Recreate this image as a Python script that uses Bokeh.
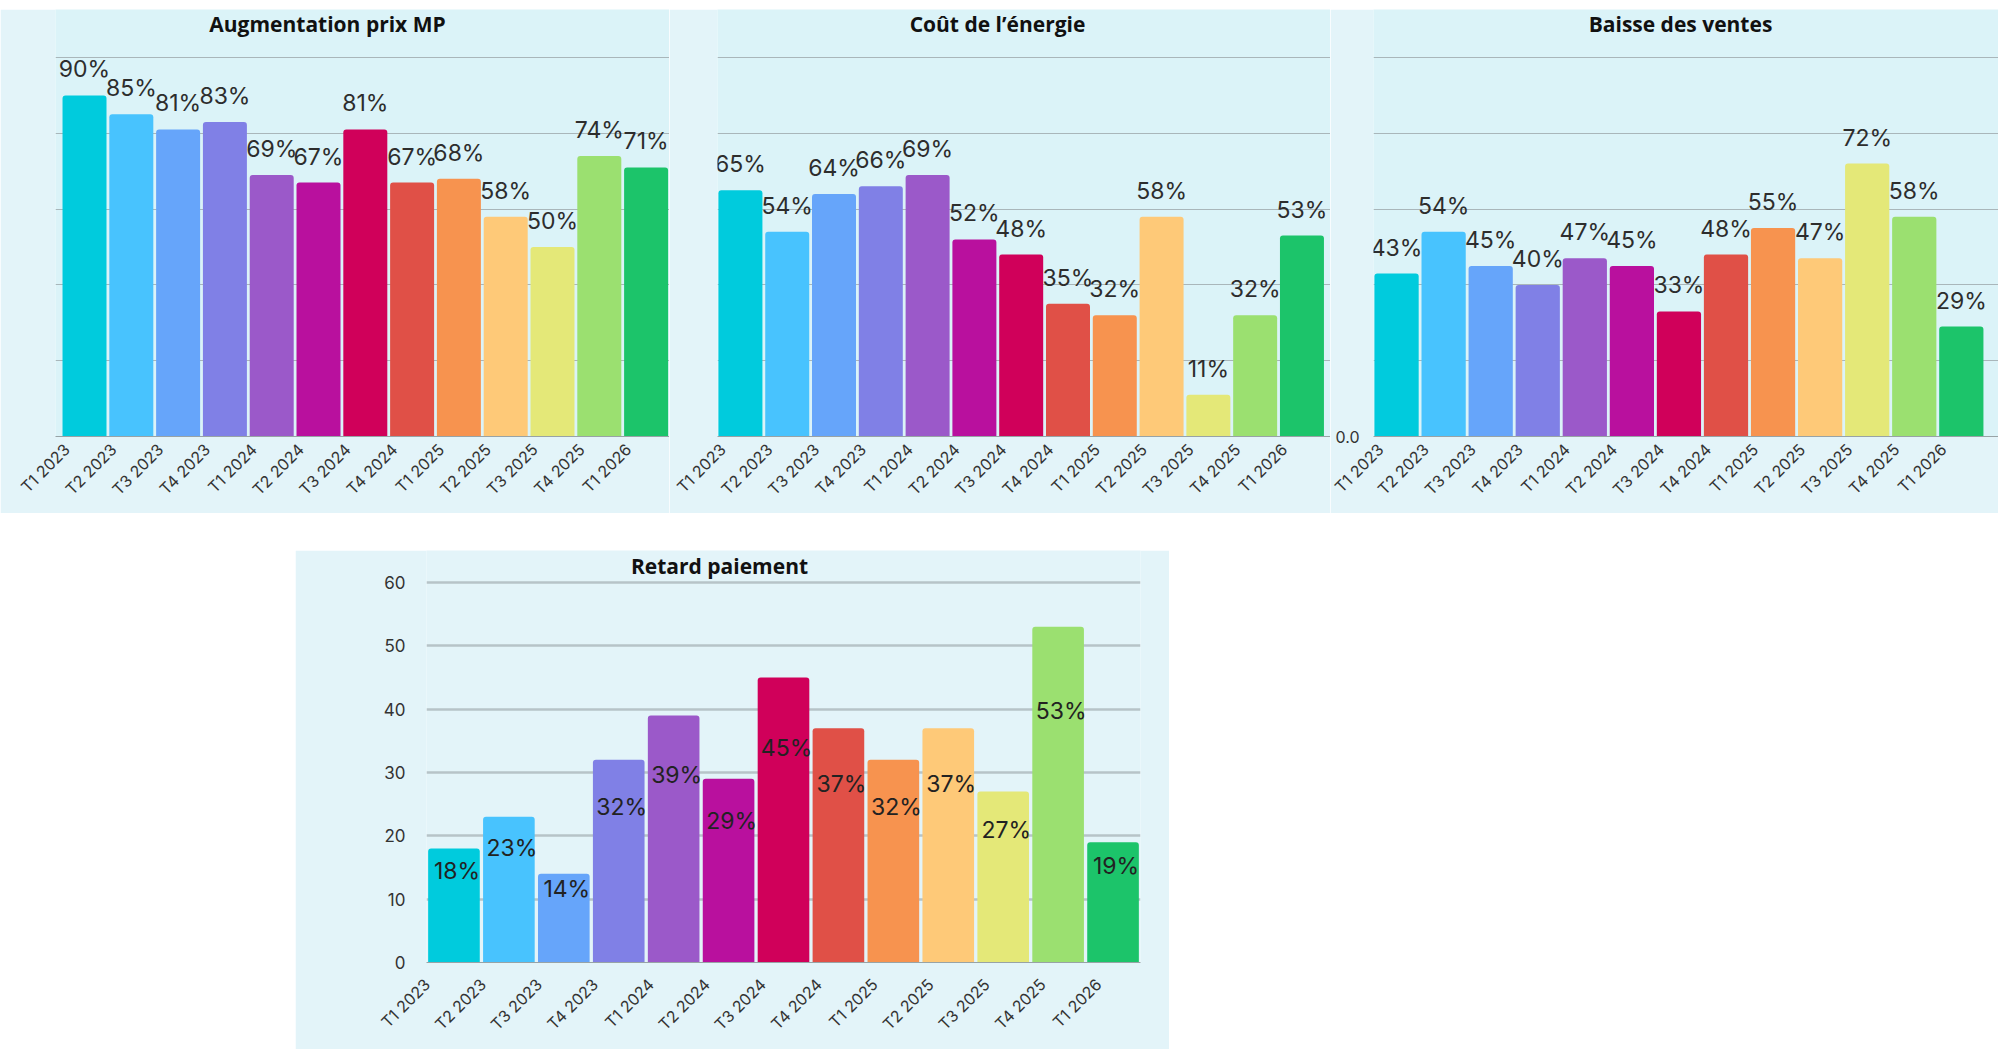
import math

from bokeh.core.properties import value
from bokeh.embed import file_html
from bokeh.layouts import column, row
from bokeh.models import (ColumnDataSource, FixedTicker, Grid, Label, LinearAxis,
                          Range1d, Spacer)
from bokeh.plotting import figure
from bokeh.resources import INLINE

# ---- data -------------------------------------------------------------
quarters = ["T1 2023", "T2 2023", "T3 2023", "T4 2023",
            "T1 2024", "T2 2024", "T3 2024", "T4 2024",
            "T1 2025", "T2 2025", "T3 2025", "T4 2025", "T1 2026"]

prix_mp = [90, 85, 81, 83, 69, 67, 81, 67, 68, 58, 50, 74, 71]
energie = [65, 54, 64, 66, 69, 52, 48, 35, 32, 58, 11, 32, 53]
ventes = [43, 54, 45, 40, 47, 45, 33, 48, 55, 47, 72, 58, 29]
retard = [18, 23, 14, 32, 39, 29, 45, 37, 32, 37, 27, 53, 19]

bar_colors = ["#00cbdd", "#48c3fe", "#66a5fa", "#8080e6", "#9b59c9",
              "#b9109e", "#d0005a", "#e05047", "#f7934f", "#fec978",
              "#e4e878", "#9be070", "#1cc46a"]

pct_grid_ticks = [20, 40, 60, 80, 100]
retard_ticks = [0, 10, 20, 30, 40, 50, 60]

# ---- styling ----------------------------------------------------------
PANEL_BG = "#dbf3f8"
EDGE_BG = "#e3f4f9"
GRID_COLOR = "#a9b6ba"
AXIS_COLOR = "#98a3a6"
TEXT_COLOR = "#2d2d2d"
LABEL_FONT = "Inter"
TITLE_FONT = "Open Sans"

xs = list(range(len(quarters)))
quarter_labels = {i: q for i, q in enumerate(quarters)}


def style_category_axis(axis, standoff):
    axis.ticker = FixedTicker(ticks=xs)
    axis.major_label_overrides = quarter_labels
    axis.major_label_orientation = math.pi / 4
    axis.major_label_text_font = LABEL_FONT
    axis.major_label_text_font_size = "16px"
    axis.major_label_text_color = "#333333"
    axis.major_label_standoff = standoff
    axis.major_tick_line_color = None
    axis.minor_tick_line_color = None
    axis.axis_line_color = AXIS_COLOR


def add_title(p, text, dx, dy):
    p.add_layout(Label(x=dx, y=dy, x_units="screen", y_units="screen", text=text,
                       text_font=TITLE_FONT, text_font_style="bold",
                       text_font_size="21px", text_color="#111111",
                       text_align="center", text_baseline="alphabetic"))


def top_panel(title, values, frame_w, left, x_start, x_end, label_shift, title_dx,
              zero_label=False):
    # the tick labels sit on their own range, nudged left of the bar centres
    p = figure(frame_width=frame_w, frame_height=427, output_backend="svg",
               toolbar_location=None,
               x_range=Range1d(x_start, x_end), y_range=Range1d(0, 112.66),
               extra_x_ranges={"lab": Range1d(x_start + label_shift, x_end + label_shift)},
               x_axis_location=None, y_axis_location=None,
               min_border_left=left, min_border_right=0, min_border_top=0,
               min_border_bottom=77)
    p.background_fill_color = PANEL_BG
    p.border_fill_color = EDGE_BG
    p.outline_line_color = None
    p.grid.grid_line_color = None
    p.add_layout(Grid(dimension=1, ticker=FixedTicker(ticks=pct_grid_ticks),
                      grid_line_color=GRID_COLOR, grid_line_width=1.2))

    xaxis = LinearAxis(x_range_name="lab")
    style_category_axis(xaxis, 4)
    p.add_layout(xaxis, "below")

    if zero_label:
        yaxis = LinearAxis(ticker=FixedTicker(ticks=[0]),
                           major_label_overrides={0: "0.0"})
        yaxis.major_label_text_font = LABEL_FONT
        yaxis.major_label_text_font_size = "16px"
        yaxis.major_label_text_color = "#333333"
        yaxis.major_label_standoff = 8
        yaxis.major_tick_line_color = None
        yaxis.minor_tick_line_color = None
        yaxis.axis_line_color = None
        p.add_layout(yaxis, "left")

    src = ColumnDataSource(dict(x=xs, top=values, color=bar_colors,
                                label=[f"{v}%" for v in values]))
    p.vbar(x="x", top="top", bottom=0, width=0.94, source=src,
           fill_color="color", line_color=None, border_radius=(3, 3, 0, 0))
    p.text(x="x", y="top", text="label", source=src,
           x_offset=0, y_offset=-26, text_align="center", text_baseline="middle",
           text_font=value(LABEL_FONT), text_font_size="23px", text_color=TEXT_COLOR)
    add_title(p, title, title_dx, 413)
    return p


p1 = top_panel("Augmentation prix MP", prix_mp, 614, 55, -0.62, 12.5, 0.38, 272)
p2 = top_panel("Coût de l’énergie", energie, 613, 48, -0.49, 12.61, 0.38, 280)
p3 = top_panel("Baisse des ventes", ventes, 625, 43, -0.49, 12.79, 0.38, 307,
               zero_label=True)

# ---- payment delay panel ---------------------------------------------
p4 = figure(frame_width=714, frame_height=412, output_backend="svg",
            toolbar_location=None,
            x_range=Range1d(-0.5, 12.5), y_range=Range1d(0, 65.05),
            extra_x_ranges={"lab": Range1d(-0.01, 12.75)},
            x_axis_location=None, y_axis_location=None,
            min_border_left=131, min_border_right=29, min_border_top=0,
            min_border_bottom=87)
p4.background_fill_color = EDGE_BG
p4.border_fill_color = EDGE_BG
p4.outline_line_color = None
p4.grid.grid_line_color = None
p4.add_layout(Grid(dimension=1, ticker=FixedTicker(ticks=retard_ticks[1:]),
                   grid_line_color="#b7c3c8", grid_line_width=2.5))

yaxis4 = LinearAxis(ticker=FixedTicker(ticks=retard_ticks))
yaxis4.major_label_text_font = LABEL_FONT
yaxis4.major_label_text_font_size = "17px"
yaxis4.major_label_text_color = "#333333"
yaxis4.major_label_standoff = 15
yaxis4.major_tick_line_color = None
yaxis4.minor_tick_line_color = None
yaxis4.axis_line_color = None
p4.add_layout(yaxis4, "left")

xaxis4 = LinearAxis(x_range_name="lab")
style_category_axis(xaxis4, 13)
p4.add_layout(xaxis4, "below")

src4 = ColumnDataSource(dict(x=xs, top=retard, color=bar_colors,
                             label=[f"{v}%" for v in retard],
                             label_y=[v * 0.72 + 1.5 for v in retard]))
p4.vbar(x="x", top="top", bottom=0, width=0.94, source=src4,
        fill_color="color", line_color=None, border_radius=(3, 3, 0, 0))
p4.text(x="x", y="label_y", text="label", source=src4,
        x_offset=3, text_align="center", text_baseline="middle",
        text_font=value(LABEL_FONT), text_font_size="23px", text_color="#222222")
add_title(p4, "Retard paiement", 293, 397)

layout = column(
    Spacer(width=1998, height=9),
    row(p1, p2, p3),
    Spacer(width=1998, height=37),
    row(Spacer(width=295, height=499), p4),
)

open("out.html", "w").write(file_html(layout, INLINE))
